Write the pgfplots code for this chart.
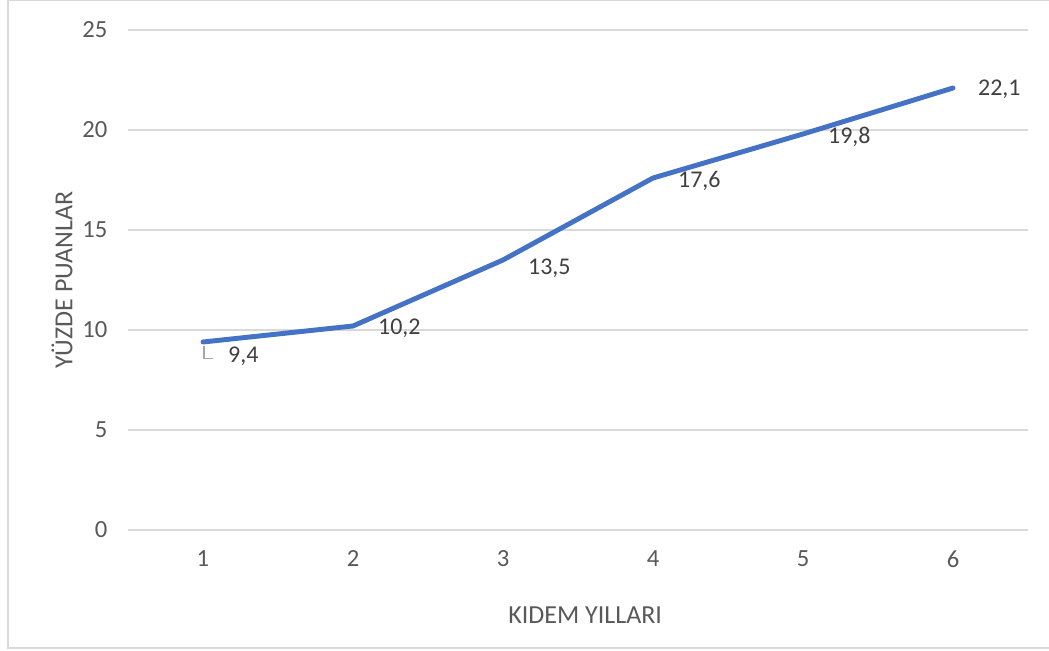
\documentclass[border=0pt]{standalone}
\usepackage{pgfplots}
\pgfplotsset{compat=1.18}
\usepackage{fontspec}
\setmainfont{Carlito}
\definecolor{linecol}{HTML}{4472C4}
\definecolor{gridcol}{HTML}{D9D9D9}
\definecolor{ticktext}{HTML}{595959}
\definecolor{labtext}{HTML}{404040}
\definecolor{leader}{HTML}{A6A6A6}
\begin{document}
\begin{tikzpicture}
\useasboundingbox (-96pt,-90pt) rectangle (690.75pt,397.5pt);
\draw[gridcol, line width=0.9pt] (690.75pt,396.9pt) -- (-90pt,396.9pt) -- (-90pt,-88.5pt) -- (690.75pt,-88.5pt);
\begin{axis}[
  at={(0,0)}, anchor=south west,
  scale only axis,
  width=675pt, height=375pt,
  xmin=0.5, xmax=6.5, ymin=0, ymax=25,
  xtick={1,2,3,4,5,6},
  ytick={0,5,10,15,20,25},
  ymajorgrids,
  grid style={gridcol, line width=0.9pt},
  axis line style={draw=none},
  major tick length=0pt,
  tick label style={font=\fontsize{18.5}{22}\selectfont, text=ticktext},
  /pgf/number format/assume math mode=true,
  yticklabel style={xshift=-12pt},
  xticklabel style={yshift=-12pt},
  xlabel={KIDEM YILLARI},
  ylabel={YÜZDE PUANLAR},
  label style={font=\fontsize{19.5}{23}\selectfont, text=ticktext},
  xlabel style={at={(axis description cs:0.508,-0.17)}, anchor=center},
  ylabel style={at={(axis description cs:-0.0733,0.5)}, anchor=center, rotate=0},
  clip=false,
]
\addplot[linecol, line width=3.7pt, line join=round, line cap=round,
  nodes near coords,
  point meta=explicit symbolic,
  visualization depends on={\thisrow{dy} \as \dy},
  every node near coord/.append style={anchor=west, inner sep=0pt, xshift=17pt, yshift=\dy pt, text=labtext, font=\fontsize{18}{21}\selectfont},
] table[x=x, y=y, meta=lab] {
x y lab dy
1 9.4 9,4 -10.5
2 10.2 10,2 -1.5
3 13.5 13,5 -6
4 17.6 17,6 -2.5
5 19.8 19,8 -2.5
6 22.1 22,1 -1
};
\draw[leader, line width=0.9pt] (axis cs:1.007,9.22) -- (axis cs:1.007,8.58) -- (axis cs:1.065,8.58);
\end{axis}
\end{tikzpicture}
\end{document}
